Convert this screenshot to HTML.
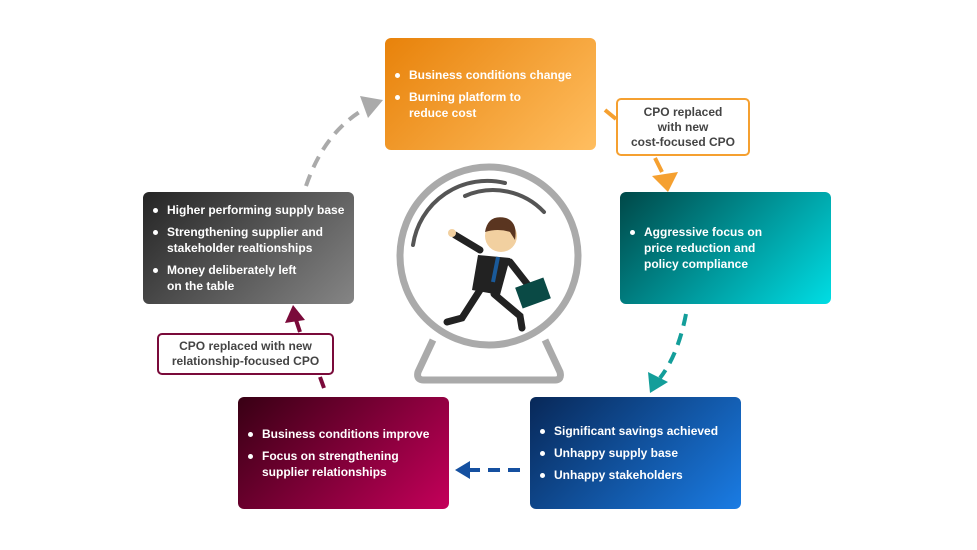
<!DOCTYPE html>
<html><head><meta charset="utf-8"><style>
body{margin:0;width:977px;height:550px;background:#fff;position:relative;overflow:hidden;font-family:"Liberation Sans",sans-serif}
.box{position:absolute;width:211px;height:112px;border-radius:6px;color:#fff;font-size:12px;font-weight:bold;line-height:16px;box-sizing:border-box;display:flex;flex-direction:column;justify-content:center;padding-left:8px}
.box div{position:relative;padding-left:16px;margin:3px 0}
.box div:before{content:"";position:absolute;left:2px;top:6px;width:5px;height:5px;border-radius:50%;background:#fff}
.call{position:absolute;background:#fff;border-radius:5px;border:2px solid;text-align:center;font-size:12px;font-weight:bold;color:#444;line-height:15px;box-sizing:border-box;display:flex;align-items:center;justify-content:center}
</style></head><body>
<svg width="977" height="550" style="position:absolute;left:0;top:0">
<path d="M306,186 Q325,130 368,107" fill="none" stroke="#aaa" stroke-width="4" stroke-dasharray="12,8"/>
<path d="M360,96 L383,100 L368,118z" fill="#aaa"/>
<line x1="605" y1="110" x2="616" y2="119" stroke="#f5a030" stroke-width="4"/>
<line x1="655" y1="158" x2="662" y2="172" stroke="#f5a030" stroke-width="4"/>
<path d="M652,176 L678,172 L668,192z" fill="#f5a030"/>
<path d="M686,314 Q678,355 660,378" fill="none" stroke="#139e9a" stroke-width="4" stroke-dasharray="12,8"/>
<path d="M648,372 L668,382 L650,393z" fill="#139e9a"/>
<line x1="520" y1="470" x2="470" y2="470" stroke="#1550a0" stroke-width="4" stroke-dasharray="12,8"/>
<path d="M470,461 L455,470 L470,479z" fill="#1550a0"/>
<line x1="324" y1="388" x2="320" y2="377" stroke="#7a0a3a" stroke-width="4"/>
<line x1="300" y1="332" x2="296" y2="320" stroke="#7a0a3a" stroke-width="4"/>
<path d="M285,323 L293,305 L305,320z" fill="#7a0a3a"/>
<circle cx="489" cy="256" r="89" fill="none" stroke="#aaa" stroke-width="7"/>
<path d="M433,340 L418,372 Q416,380 424,380 L555,380 Q562,380 560,372 L545,340" fill="none" stroke="#aaa" stroke-width="7" stroke-linejoin="round"/>
<path d="M413,245 A75,75 0 0 1 505,183" fill="none" stroke="#555" stroke-width="4" stroke-linecap="round"/>
<path d="M465,196 A70,70 0 0 1 544,212" fill="none" stroke="#555" stroke-width="4" stroke-linecap="round"/>
<path d="M455,235 L480,250" stroke="#222" stroke-width="7" stroke-linecap="round"/>
<circle cx="452" cy="233" r="4" fill="#f2d0a0"/>
<path d="M478,255 L510,258 L500,295 L472,290z" fill="#222"/>
<path d="M498,257 L493,282" stroke="#1a5a9a" stroke-width="4"/>
<path d="M510,262 L528,285" stroke="#222" stroke-width="7" stroke-linecap="round"/>
<path d="M480,290 L462,318 L447,322" stroke="#222" stroke-width="7" fill="none" stroke-linecap="round"/>
<path d="M494,294 L520,316 L522,328" stroke="#222" stroke-width="7" fill="none" stroke-linecap="round"/>
<rect x="518" y="282" width="30" height="22" fill="#0a4a45" transform="rotate(-20 533 293)"/>
<circle cx="501" cy="236" r="16" fill="#f2d0a0"/>
<path d="M485,232 Q488,214 506,218 Q518,222 515,240 L510,232 Q498,228 485,232z" fill="#5a3520"/>
</svg>
<div class="box" style="left:385px;top:38px;background:linear-gradient(135deg,#e8820a,#ffbe60)"><div>Business conditions change</div><div>Burning platform to<br>reduce cost</div></div>
<div class="box" style="left:620px;top:192px;background:linear-gradient(135deg,#004848,#00dde4)"><div>Aggressive focus on<br>price reduction and<br>policy compliance</div></div>
<div class="box" style="left:530px;top:397px;background:linear-gradient(135deg,#082858,#1a7ce4)"><div>Significant savings achieved</div><div>Unhappy supply base</div><div>Unhappy stakeholders</div></div>
<div class="box" style="left:238px;top:397px;background:linear-gradient(135deg,#380014,#c4005a)"><div>Business conditions improve</div><div>Focus on strengthening<br>supplier relationships</div></div>
<div class="box" style="left:143px;top:192px;background:linear-gradient(135deg,#252525,#858585)"><div>Higher performing supply base</div><div>Strengthening supplier and<br>stakeholder realtionships</div><div>Money deliberately left<br>on the table</div></div>
<div class="call" style="left:616px;top:98px;width:134px;height:58px;border-color:#f5a030">CPO replaced<br>with new<br>cost-focused CPO</div>
<div class="call" style="left:157px;top:333px;width:177px;height:42px;border-color:#7a0a3a">CPO replaced with new<br>relationship-focused CPO</div>
</body></html>
